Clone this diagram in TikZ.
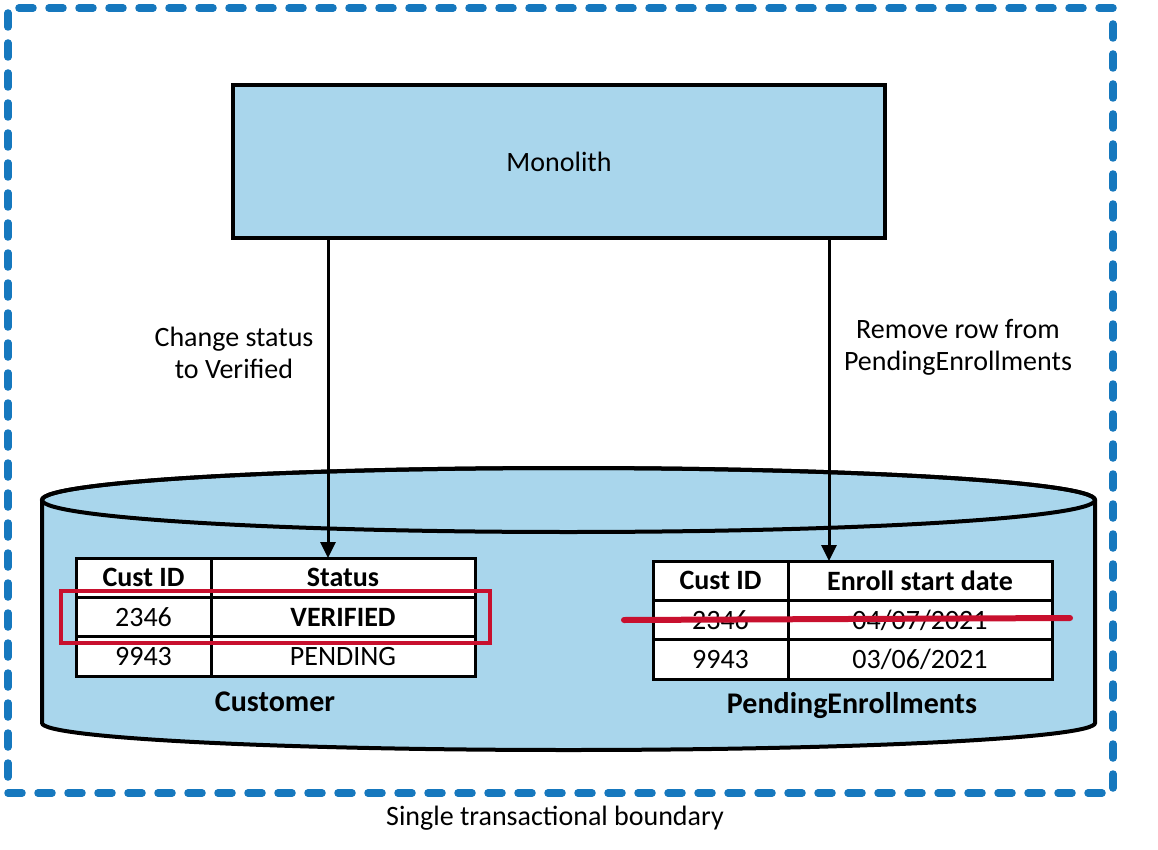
\documentclass[tikz,border=0pt]{standalone}
\usepackage{fontspec}
\setmainfont{Carlito}
\usetikzlibrary{arrows.meta}
\definecolor{bluefill}{RGB}{169,214,236}
\definecolor{bnd}{RGB}{22,120,190}
\definecolor{redmark}{RGB}{200,16,46}
\begin{document}
\begin{tikzpicture}[x=1pt,y=-1pt,
  lbl/.style={font=\fontsize{28}{32}\selectfont, inner sep=0pt, align=center},
  boldlbl/.style={font=\fontsize{30}{34}\selectfont\bfseries, inner sep=0pt},
  cell/.style={draw, line width=3pt, fill=white, minimum height=39.33pt, inner sep=0pt, outer sep=0pt, font=\fontsize{28}{30}\selectfont},
  cA/.style={cell, minimum width=135pt},
  cB/.style={cell, minimum width=264pt},
  hd/.style={font=\fontsize{28}{30}\selectfont\bfseries},
  arrow/.style={line width=3pt, -{Triangle[length=16pt,width=15pt]}},
  dbbody/.style={fill=bluefill, draw=black, line width=4pt}
]
\useasboundingbox (0,0) rectangle (1158,850);

% transactional boundary
\node[draw=bnd, line width=7.5pt, dash pattern=on 14pt off 16pt, line cap=round,
      minimum width=1105pt, minimum height=785pt, inner sep=0pt] (boundary) at (560.5,400.5) {};
\node[lbl] (bndlabel) at (555,818) {Single transactional boundary};

% monolith
\node[draw=black, fill=bluefill, line width=4pt, minimum width=652pt, minimum height=153pt,
      inner sep=0pt, font=\fontsize{28}{32}\selectfont] (mono) at (559,161.5) {Monolith};

% database cylinder
\path[dbbody] (42,500) -- (42,723)
   arc[start angle=180, end angle=360, x radius=526.5pt, y radius=27pt]
   -- (1095,500)
   arc[start angle=0, end angle=180, x radius=526.5pt, y radius=32pt] -- cycle;
\draw[line width=4pt] (568.5,500) ellipse [x radius=526.5pt, y radius=32pt];

% Customer table
\node[cA, hd] (ch1) at (143.5,577.67) {Cust ID};
\node[cB, hd] (ch2) at (343,577.67) {Status};
\node[cA] (c11) at (143.5,617) {2346};
\node[cB, font=\fontsize{28}{30}\selectfont\bfseries] (c12) at (343,617) {VERIFIED};
\node[cA] (c21) at (143.5,656.33) {9943};
\node[cB] (c22) at (343,656.33) {PENDING};
\node[boldlbl] (custname) at (275,702) {Customer};

% PendingEnrollments table
\node[cA, hd] (ph1) at (720.5,580.67) {Cust ID};
\node[cB, hd] (ph2) at (920,580.67) {Enroll start date};
\node[cA] (p11) at (720.5,620) {2346};
\node[cB] (p12) at (920,620) {04/07/2021};
\node[cA] (p21) at (720.5,659.33) {9943};
\node[cB] (p22) at (920,659.33) {03/06/2021};
\node[boldlbl] (pendname) at (852,706) {PendingEnrollments};

% highlight and strike
\node[draw=redmark, line width=4pt, minimum width=429pt, minimum height=52pt, inner sep=0pt] (hl) at (275.5,617) {};
\coordinate (s1) at (624,620);
\coordinate (s2) at (1070,618);
\draw[redmark, line width=6pt, line cap=round] (s1) -- (s2);

% arrows
\coordinate (t1) at (328,558);
\coordinate (t2) at (829,561);
\draw[arrow] (mono.south -| t1) -- (t1);
\draw[arrow] (mono.south -| t2) -- (t2);

% labels
\node[lbl] (l1) at (234,353) {Change status\\to Verified};
\node[lbl] (l2) at (958,347) {Remove row from\\PendingEnrollments};
\end{tikzpicture}
\end{document}
